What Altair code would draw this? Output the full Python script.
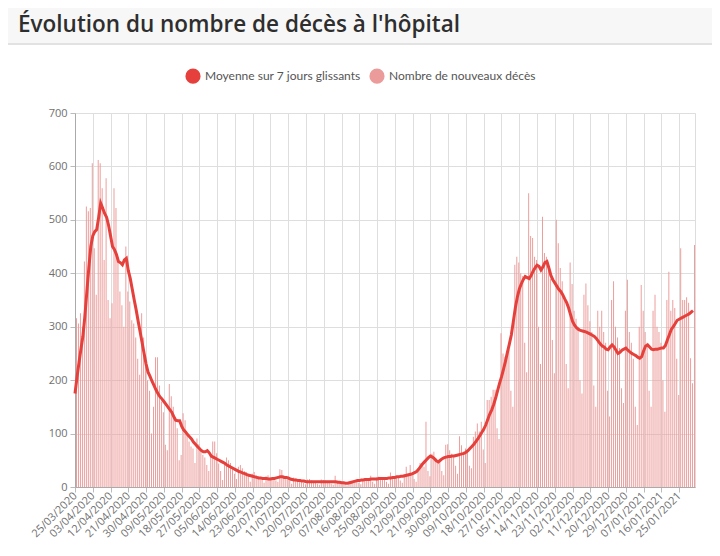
import altair as alt
import pandas as pd

# Daily new hospital deaths, from 25/03/2020 (one value per day, week rows start on Wednesday)
deces = [
    316, 306, 325, 300, 422, 525, 516,
    522, 606, 447, 360, 612, 606, 559,
    425, 578, 350, 316, 344, 559, 522,
    422, 366, 340, 300, 450, 366, 347,
    312, 306, 280, 240, 210, 325, 280,
    225, 200, 180, 100, 150, 243, 243,
    190, 160, 140, 79, 69, 193, 170,
    150, 125, 110, 50, 60, 138, 125,
    100, 85, 76, 72, 45, 91, 80,
    66, 60, 55, 41, 30, 60, 85,
    85, 63, 44, 30, 13, 47, 55,
    50, 45, 38, 25, 15, 38, 41,
    35, 30, 28, 22, 10, 25, 28,
    22, 20, 18, 16, 8, 20, 22,
    18, 16, 15, 12, 10, 33, 32,
    22, 20, 18, 12, 6, 18, 16,
    14, 13, 12, 8, 5, 14, 15,
    12, 11, 10, 6, 4, 14, 13,
    12, 10, 10, 6, 4, 21, 12,
    10, 9, 8, 4, 3, 10, 11,
    10, 12, 11, 8, 5, 15, 17,
    16, 15, 21, 10, 6, 18, 19,
    17, 18, 16, 10, 6, 27, 20,
    19, 20, 18, 12, 8, 24, 38,
    25, 41, 26, 15, 10, 35, 45,
    40, 38, 122, 30, 20, 62, 66,
    54, 50, 48, 30, 22, 79, 80,
    69, 62, 58, 40, 25, 95, 78,
    66, 72, 70, 40, 35, 94, 104,
    119, 104, 122, 70, 45, 163, 163,
    169, 182, 182, 110, 90, 288, 250,
    244, 253, 257, 180, 150, 416, 431,
    420, 400, 395, 270, 215, 550, 470,
    466, 431, 425, 300, 230, 506, 438,
    431, 420, 390, 275, 213, 500, 456,
    410, 385, 350, 230, 185, 420, 380,
    330, 315, 300, 200, 175, 360, 381,
    340, 310, 290, 190, 150, 330, 300,
    330, 290, 270, 180, 132, 350, 385,
    300, 280, 260, 185, 157, 330, 388,
    290, 270, 240, 150, 116, 300, 378,
    330, 290, 270, 180, 150, 330, 360,
    300, 290, 270, 200, 141, 350, 403,
    330, 350, 335, 240, 172, 447, 350,
    350, 355, 345, 241, 194, 453,
]

# 7-day rolling average
moyenne = [
    175, 205, 232, 258, 282, 320, 365, 410, 450, 470,
    478, 482, 505, 531, 522, 512, 505, 490, 470, 450,
    444, 435, 422, 420, 416, 425, 428, 405, 390, 370,
    350, 331, 310, 290, 270, 250, 230, 215, 207, 198,
    190, 182, 175, 169, 165, 160, 155, 150, 145, 140,
    132, 125, 124, 124, 114, 107, 103, 98, 94, 90,
    84, 80, 76, 72, 68, 66, 66, 68, 64, 58,
    56, 54, 52, 50, 48, 46, 44, 41, 39, 37,
    35, 33, 31, 29, 28, 26, 25, 23, 22, 21,
    20, 19, 18, 17, 17, 16, 16, 16, 15, 15,
    16, 16, 17, 18, 19, 19, 18, 18, 17, 15,
    14, 13, 13, 12, 12, 11, 11, 10, 10, 10,
    10, 10, 10, 10, 10, 10, 10, 10, 10, 10,
    10, 10, 10, 9, 9, 8, 8, 7, 7, 8,
    9, 10, 11, 12, 12, 13, 13, 14, 14, 14,
    15, 15, 15, 15, 16, 16, 16, 16, 16, 17,
    17, 18, 18, 19, 19, 20, 20, 21, 22, 23,
    24, 25, 27, 29, 33, 38, 43, 47, 51, 55,
    58, 56, 53, 49, 47, 50, 53, 55, 56, 57,
    57, 58, 58, 59, 60, 61, 62, 63, 65, 68,
    72, 76, 80, 85, 90, 96, 102, 108, 116, 126,
    136, 144, 154, 166, 180, 194, 206, 220, 235, 252,
    268, 285, 310, 335, 355, 370, 380, 388, 394, 392,
    390, 396, 404, 410, 415, 413, 406, 412, 420, 422,
    410, 396, 388, 382, 376, 370, 366, 360, 352, 345,
    335, 322, 310, 303, 298, 295, 293, 292, 291, 290,
    288, 286, 284, 282, 278, 273, 268, 264, 262, 258,
    257, 262, 266, 262, 256, 250, 252, 256, 258, 260,
    256, 253, 250, 248, 246, 243, 241, 244, 255, 264,
    266, 262, 258, 257, 258, 258, 259, 260, 260, 265,
    275, 285, 295, 300, 306, 312, 314, 316, 318, 320,
    322, 324, 327, 330,
]

tick_labels = [
    "25/03/2020", "03/04/2020", "12/04/2020", "21/04/2020", "30/04/2020",
    "09/05/2020", "18/05/2020", "27/05/2020", "05/06/2020", "14/06/2020",
    "23/06/2020", "02/07/2020", "11/07/2020", "20/07/2020", "29/07/2020",
    "07/08/2020", "16/08/2020", "25/08/2020", "03/09/2020", "12/09/2020",
    "21/09/2020", "30/09/2020", "09/10/2020", "18/10/2020", "27/10/2020",
    "05/11/2020", "14/11/2020", "23/11/2020", "02/12/2020", "11/12/2020",
    "20/12/2020", "29/12/2020", "07/01/2021", "16/01/2021", "25/01/2021",
]
y_ticks = [0, 100, 200, 300, 400, 500, 600, 700]

series_names = ["Moyenne sur 7 jours glissants", "Nombre de nouveaux décès"]
series_colors = ["#e5403b", "#eb9c9a"]

TITLE = "Évolution du nombre de décès à l'hôpital"
FONT = "Lato"
AXIS_FONT = "Open Sans"


def to_dt(s):
    d, m, y = s.split("/")
    return alt.DateTime(year=int(y), month=int(m), date=int(d))


dates = pd.date_range("2020-03-25", periods=len(deces), freq="D").strftime("%Y/%m/%d")
df = pd.DataFrame({"date": list(dates), "deces": deces, "moyenne": moyenne})

x_scale = alt.Scale(domain=[alt.DateTime(year=2020, month=3, date=25),
                            alt.DateTime(year=2021, month=2, date=2)])
x_axis = alt.Axis(
    values=[to_dt(s) for s in tick_labels], tickCount=60, format="%d/%m/%Y", labelAngle=315,
    labelAlign="right", labelBaseline="middle", labelPadding=2, labelFont=AXIS_FONT,
    labelFontSize=11, labelColor="#707070", tickColor="#bbb", tickSize=5,
    domainColor="#aaa", gridColor="#dedede", grid=True, title=None, labelOverlap=False,
    labelFlush=False,
)
y_axis = alt.Axis(
    values=y_ticks, labelFont=AXIS_FONT, labelFontSize=11, labelColor="#707070",
    tickColor="#bbb", tickSize=5, domainColor="#aaa", gridColor="#dedede",
    title=None, labelPadding=3,
)
y_scale = alt.Scale(domain=[0, 700], nice=False)

one = pd.DataFrame({"t": [TITLE]})
header = alt.Chart(one).mark_rect(color="#f7f7f7").encode(
    x=alt.value(-67), x2=alt.value(637), y=alt.value(-105), y2=alt.value(-70)
)
header_line = alt.Chart(one).mark_rule(color="#e2e2e2", strokeWidth=2).encode(
    x=alt.value(-67), x2=alt.value(637), y=alt.value(-69)
)
title_text = alt.Chart(one).mark_text(
    align="left", baseline="alphabetic", font="Open Sans", fontSize=22.5, fontWeight=600,
    color="#2e2e2e",
).encode(x=alt.value(-57), y=alt.value(-81), text="t:N")

bars = alt.Chart(df).mark_bar(color=series_colors[1]).encode(
    x=alt.X("yearmonthdate(date):T", scale=x_scale, axis=x_axis),
    y=alt.Y("deces:Q", scale=y_scale, axis=y_axis),
)
line = alt.Chart(df).mark_line(color=series_colors[0], strokeWidth=3).encode(
    x=alt.X("yearmonthdate(date):T", scale=x_scale),
    y=alt.Y("moyenne:Q", scale=y_scale),
)
legend_layer = alt.Chart(pd.DataFrame({"serie": series_names})).mark_circle(opacity=0).encode(
    color=alt.Color(
        "serie:N",
        scale=alt.Scale(domain=series_names, range=series_colors),
        legend=alt.Legend(
            orient="none", legendX=110, legendY=-45, direction="horizontal", title=None,
            symbolType="circle", symbolSize=230, symbolOpacity=1, symbolStrokeWidth=0,
            labelFont=FONT, labelFontSize=12, labelColor="#555", labelOffset=4,
            columnPadding=8,
        ),
    )
)

chart = alt.layer(header, header_line, title_text, bars, line, legend_layer).properties(
    width=620, height=374,
    autosize=alt.AutoSizeParams(type="none"),
    padding={"left": 67, "top": 105, "right": 17, "bottom": 61},
).configure_view(stroke=None).configure(background="white")

chart.save("out.html", embed_options={"renderer": "svg", "actions": False})
